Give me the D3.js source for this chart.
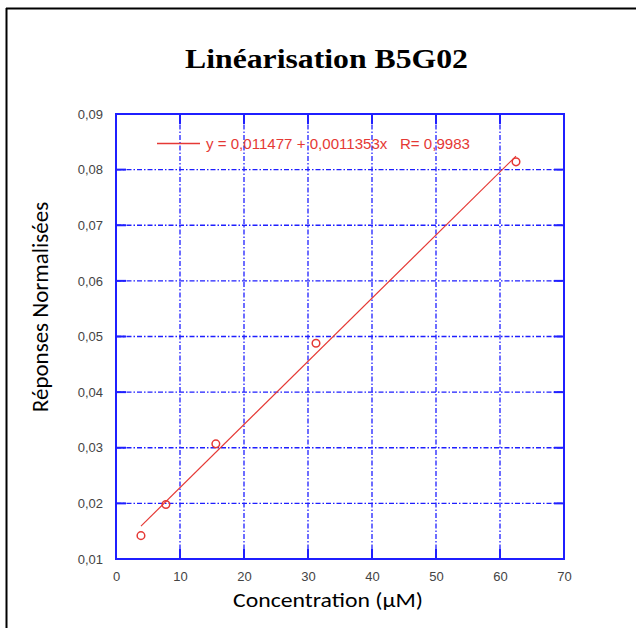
<!DOCTYPE html>
<html><head><meta charset="utf-8">
<script src="https://cdn.jsdelivr.net/npm/d3@7"></script>
<style>body{margin:0;background:#fff}svg{display:block}</style>
</head><body>
<script>
const concentrations = [3.9, 7.8, 15.6, 31.25, 62.5];
const responses = [0.0142, 0.0198, 0.0307, 0.0488, 0.0814];
const fitIntercept = 0.011477;
const fitSlope = 0.0011353;
const fitR = "0,9983";
const xTicks = [0, 10, 20, 30, 40, 50, 60, 70];
const yTicks = [0.01, 0.02, 0.03, 0.04, 0.05, 0.06, 0.07, 0.08, 0.09];
const title = "Linéarisation B5G02";
const xLabel = "Concentration (µM)";
const yLabel = "Réponses Normalisées";

const W = 636, H = 628;
const svg = d3.select("body").append("svg").attr("width", W).attr("height", H);
const blue = "#1f1fff", red = "#e53935";
const fmt = v => d3.format(".2f")(v).replace(".", ",");

// frame
svg.append("line").attr("x1", 6).attr("x2", W).attr("y1", 8.5).attr("y2", 8.5).attr("stroke", "#000").attr("stroke-width", 2);
svg.append("line").attr("x1", 6.5).attr("x2", 6.5).attr("y1", 8).attr("y2", H).attr("stroke", "#000").attr("stroke-width", 2);

svg.append("text").attr("x", 185).attr("y", 68)
  .attr("font-family", "Liberation Serif, Times New Roman, serif").attr("font-weight", "bold").attr("font-size", 28)
  .attr("textLength", 283).attr("lengthAdjust", "spacingAndGlyphs").text(title);

const x = d3.scaleLinear().domain([0, 70]).range([116, 564]);
const y = d3.scaleLinear().domain([0.01, 0.09]).range([559, 114]);

// grid
const gridDash = "5,2,1.5,2";
svg.append("g").selectAll("line").data(xTicks.slice(1, -1)).join("line")
  .attr("x1", d => x(d)).attr("x2", d => x(d)).attr("y1", y(0.09)).attr("y2", y(0.01))
  .attr("stroke", blue).attr("stroke-width", 1.3).attr("stroke-dasharray", gridDash);
svg.append("g").selectAll("line").data(yTicks.slice(1, -1)).join("line")
  .attr("x1", x(0)).attr("x2", x(70)).attr("y1", d => y(d)).attr("y2", d => y(d))
  .attr("stroke", blue).attr("stroke-width", 1.3).attr("stroke-dasharray", gridDash);

// axes via d3
const tickFont = "Liberation Sans, Arial, sans-serif";
const xAxis = svg.append("g").attr("transform", `translate(0,${y(0.01)})`)
  .call(d3.axisBottom(x).tickValues(xTicks).tickSize(0).tickPadding(13).tickFormat(d3.format("d")));
const yAxis = svg.append("g").attr("transform", `translate(${x(0)},0)`)
  .call(d3.axisLeft(y).tickValues(yTicks).tickSize(0).tickPadding(13).tickFormat(fmt));
[xAxis, yAxis].forEach(g => {
  g.select(".domain").remove();
  g.selectAll("text").attr("font-family", tickFont).attr("font-size", 13).attr("fill", "#444");
});

// inner tick marks
const tl = 10;
const ticks = svg.append("g").attr("stroke", blue).attr("stroke-width", 2);
xTicks.slice(1, -1).forEach(d => {
  ticks.append("line").attr("x1", x(d)).attr("x2", x(d)).attr("y1", y(0.01)).attr("y2", y(0.01) - tl);
  ticks.append("line").attr("x1", x(d)).attr("x2", x(d)).attr("y1", y(0.09)).attr("y2", y(0.09) + tl);
});
yTicks.slice(1, -1).forEach(d => {
  ticks.append("line").attr("x1", x(0)).attr("x2", x(0) + tl).attr("y1", y(d)).attr("y2", y(d));
  ticks.append("line").attr("x1", x(70)).attr("x2", x(70) - tl).attr("y1", y(d)).attr("y2", y(d));
});

// plot border
svg.append("rect").attr("x", x(0)).attr("y", y(0.09)).attr("width", x(70) - x(0)).attr("height", y(0.01) - y(0.09))
  .attr("fill", "none").attr("stroke", blue).attr("stroke-width", 2);

// fit line
const x0 = d3.min(concentrations), x1 = d3.max(concentrations);
svg.append("line").attr("x1", x(x0)).attr("y1", y(fitIntercept + fitSlope * x0))
  .attr("x2", x(x1)).attr("y2", y(fitIntercept + fitSlope * x1))
  .attr("stroke", red).attr("stroke-width", 1.2);

// points
svg.append("g").selectAll("circle").data(concentrations).join("circle")
  .attr("cx", d => x(d)).attr("cy", (d, i) => y(responses[i])).attr("r", 3.8)
  .attr("fill", "none").attr("stroke", red).attr("stroke-width", 1.5);

// legend
svg.append("line").attr("x1", 157).attr("x2", 200).attr("y1", 143.5).attr("y2", 143.5).attr("stroke", red).attr("stroke-width", 1.5);
svg.append("text").attr("x", 206).attr("y", 148.5).attr("font-family", tickFont).attr("font-size", 14).attr("fill", red)
  .attr("xml:space", "preserve").attr("textLength", 264).attr("lengthAdjust", "spacingAndGlyphs")
  .text(`y = ${String(fitIntercept).replace(".", ",")} + ${String(fitSlope).replace(".", ",")}x   R= ${fitR}`);

// axis labels
const labFont = "Carlito, Open Sans, Noto Sans, sans-serif";
svg.append("text").attr("x", 328).attr("y", 607).attr("text-anchor", "middle")
  .attr("font-family", labFont).attr("font-size", 21).attr("fill", "#000")
  .attr("textLength", 190).attr("lengthAdjust", "spacingAndGlyphs").text(xLabel);
svg.append("text").attr("transform", "translate(48,307) rotate(-90)").attr("text-anchor", "middle")
  .attr("font-family", labFont).attr("font-size", 23).attr("fill", "#000").text(yLabel);
</script>
</body></html>
